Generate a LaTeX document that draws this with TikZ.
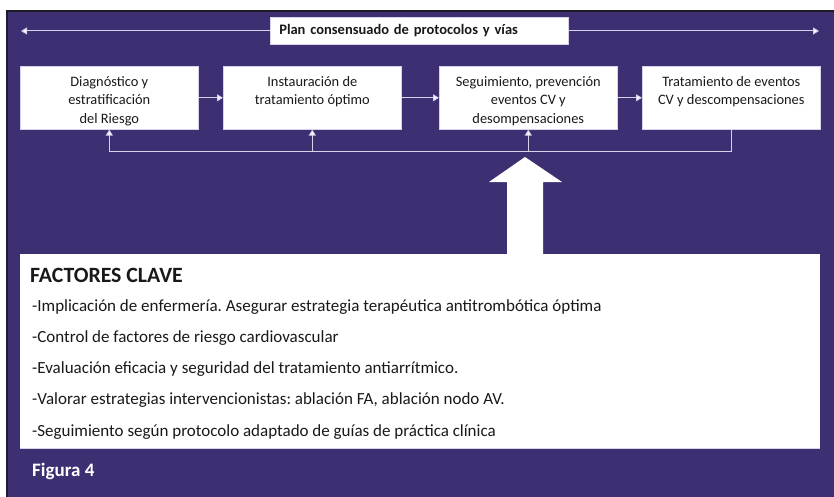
\documentclass[tikz,border=0pt]{standalone}
\usepackage{fontspec}
\setmainfont{Carlito}
\frenchspacing
\usetikzlibrary{arrows.meta,calc}
\definecolor{bgpurple}{RGB}{62,47,114}
\definecolor{edgedark}{RGB}{30,28,40}
\definecolor{conn}{RGB}{214,210,232}
\definecolor{txt}{RGB}{25,25,25}
\tikzset{
  whitebox/.style={fill=white, draw=conn, line width=0.6pt, inner sep=0pt, text=txt},
  conline/.style={draw=conn, line width=1pt},
  conarrow/.style={conline, -{Triangle[length=6pt,width=7pt,fill=white]}},
  factor/.style={anchor=west, inner sep=0pt, text=txt, font=\fontsize{17}{20}\selectfont},
}
\newcommand{\boxtext}[1]{\parbox[c][63pt][t]{178pt}{\centering\fontsize{14.4}{18.5}\selectfont\vspace*{10pt}#1}}
\begin{document}
\begin{tikzpicture}[x=1pt,y=-1pt]
\useasboundingbox (0,0) rectangle (834,497);
\fill[white] (0,0) rectangle (834,497);
\fill[bgpurple] (6,10) rectangle (834,497);
\draw[edgedark, line width=1.6pt] (6.8,497) -- (6.8,10.8) -- (834,10.8);

% top plan banner
\node[whitebox, anchor=north west, minimum width=298pt, minimum height=27pt, text width=280pt, inner xsep=9pt, align=left, font=\bfseries\fontsize{14.5}{16}\selectfont] (plan) at (270,17) {Plan consensuado de protocolos y vías};
\coordinate (lend) at (21,31);
\coordinate (rend) at (819,31);
\draw[conarrow] (plan.west |- lend) -- (lend);
\draw[conarrow] (plan.east |- rend) -- (rend);

% process boxes
\node[whitebox, anchor=north west] (b1) at (20,66) {\boxtext{Diagnóstico y\\estratificación\\del Riesgo}};
\node[whitebox, anchor=north west] (b2) at (223,66) {\boxtext{Instauración de\\tratamiento óptimo}};
\node[whitebox, anchor=north west] (b3) at (439,66) {\boxtext{Seguimiento, prevención\\eventos CV y\\desompensaciones}};
\node[whitebox, anchor=north west] (b4) at (642,66) {\boxtext{Tratamiento de eventos\\CV y descompensaciones}};

\draw[conarrow] (b1) -- (b2);
\draw[conarrow] (b2) -- (b3);
\draw[conarrow] (b3) -- (b4);

% feedback bus
\coordinate (bus) at ($(b4.south)+(0,22)$);
\draw[conarrow] (b4.south) -- (bus) -| (b1.south);
\draw[conarrow] (b2.south |- bus) -- (b2.south);
\draw[conarrow] (b3.south |- bus) -- (b3.south);

% key factors box
\node[fill=white, anchor=north west, minimum width=800pt, minimum height=194pt, inner sep=0pt] (fk) at (20,254) {};
\draw[conn, line width=1pt] (fk.south west) -- (fk.south east);

% big arrow
\coordinate (tip) at (525,157);
\fill[white] (tip) -- (562,182) -- (543,182) -- (543,254.5) -- (507,254.5) -- (507,182) -- (489,182) -- cycle;

\node[factor, font=\bfseries\fontsize{21.8}{26}\selectfont] (ft) at (30,275) {FACTORES CLAVE};
\node[factor] (f1) at (32,307) {-Implicación de enfermería. Asegurar estrategia terapéutica antitrombótica óptima};
\node[factor] (f2) at (32,338) {-Control de factores de riesgo cardiovascular};
\node[factor] (f3) at (32,369) {-Evaluación eficacia y seguridad del tratamiento antiarrítmico.};
\node[factor] (f4) at (32,400) {-Valorar estrategias intervencionistas: ablación FA, ablación nodo AV.};
\node[factor] (f5) at (32,432) {-Seguimiento según protocolo adaptado de guías de práctica clínica};

\node[anchor=west, inner sep=0pt, text=white, font=\bfseries\fontsize{19}{23}\selectfont] (fig) at (32,471) {Figura 4};
\end{tikzpicture}
\end{document}
